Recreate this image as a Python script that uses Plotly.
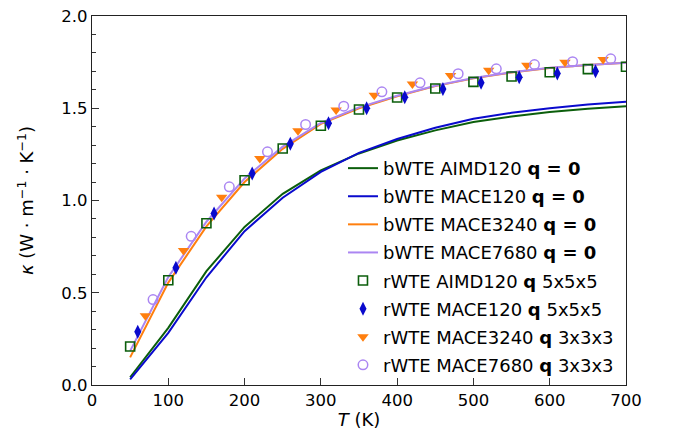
import plotly.graph_objects as go

# bWTE lines (q = 0)
T_line = [50, 100, 150, 200, 250, 300, 350, 400, 450, 500, 550, 600, 650, 700]
k_aimd120 = [0.042, 0.31, 0.617, 0.857, 1.036, 1.163, 1.255, 1.325, 1.38, 1.425, 1.455, 1.48, 1.497, 1.511]
k_mace120 = [0.03, 0.283, 0.584, 0.834, 1.015, 1.155, 1.258, 1.333, 1.394, 1.443, 1.475, 1.50, 1.52, 1.535]
k_mace3240 = [0.15, 0.555, 0.86, 1.10, 1.28, 1.415, 1.50, 1.565, 1.62, 1.662, 1.694, 1.718, 1.734, 1.746]
k_mace7680 = [0.185, 0.585, 0.885, 1.12, 1.292, 1.42, 1.505, 1.568, 1.622, 1.664, 1.695, 1.719, 1.735, 1.747]

# rWTE markers
T_sq = [50, 100, 150, 200, 250, 300, 350, 400, 450, 500, 550, 600, 650, 700]
k_sq = [0.209, 0.568, 0.877, 1.11, 1.282, 1.405, 1.493, 1.558, 1.607, 1.643, 1.672, 1.695, 1.712, 1.725]
T_di = [60, 110, 160, 210, 260, 310, 360, 410, 460, 510, 560, 610, 660]
k_di = [0.288, 0.635, 0.93, 1.146, 1.307, 1.419, 1.50, 1.56, 1.605, 1.638, 1.668, 1.688, 1.70]
T_tr = [70, 120, 170, 220, 270, 320, 370, 420, 470, 520, 570, 620, 670]
k_tr = [0.375, 0.729, 1.018, 1.228, 1.378, 1.49, 1.571, 1.632, 1.677, 1.706, 1.733, 1.75, 1.764]
T_ci = [80, 130, 180, 230, 280, 330, 380, 430, 480, 530, 580, 630, 680]
k_ci = [0.463, 0.806, 1.074, 1.264, 1.412, 1.511, 1.589, 1.638, 1.687, 1.714, 1.737, 1.752, 1.768]

GREEN = "#0b5e0b"
BLUE = "#0a0acd"
ORANGE = "#ff7f0e"
PURPLE = "#ab86f2"
FONT = "DejaVu Sans"

fig = go.Figure()
lines = [
    (k_aimd120, GREEN, "bWTE AIMD120 <b>q = 0</b>"),
    (k_mace120, BLUE, "bWTE MACE120 <b>q = 0</b>"),
    (k_mace3240, ORANGE, "bWTE MACE3240 <b>q = 0</b>"),
    (k_mace7680, PURPLE, "bWTE MACE7680 <b>q = 0</b>"),
]
for i, (k, c, name) in enumerate(lines):
    fig.add_trace(go.Scatter(x=T_line, y=k, mode="lines", name=name,
                             line=dict(color=c, width=2), legendgroup=f"g{i}"))

markers = [
    (T_sq, k_sq, dict(symbol="square-open", size=9, color=GREEN, line=dict(width=1.6, color=GREEN)), "rWTE AIMD120 <b>q</b> 5x5x5"),
    (T_di, k_di, dict(symbol="diamond-tall", size=10, color=BLUE, line=dict(width=0)), "rWTE MACE120 <b>q</b> 5x5x5"),
    (T_tr, k_tr, dict(symbol="triangle-down", size=10, color=ORANGE, line=dict(width=0)), "rWTE MACE3240 <b>q</b> 3x3x3"),
    (T_ci, k_ci, dict(symbol="circle-open", size=9.5, color=PURPLE, line=dict(width=1.5, color=PURPLE)), "rWTE MACE7680 <b>q</b> 3x3x3"),
]
for j, (x, y, m, name) in enumerate(markers):
    fig.add_trace(go.Scatter(x=x, y=y, mode="markers", name=name, marker=m,
                             legendgroup=f"m{j}"))

axis_common = dict(
    showline=True, linecolor="#222222", linewidth=1.3, mirror=True,
    ticks="inside", ticklen=6.5, tickwidth=1.1, tickcolor="#333333",
    showgrid=False, zeroline=False,
    tickfont=dict(family=FONT, size=16.5, color="black"),
)
fig.update_xaxes(range=[0, 700], dtick=100, tick0=0,
                 title=dict(text="<i>T</i> (K)", font=dict(family=FONT, size=18, color="black"), standoff=4),
                 **axis_common)
fig.update_yaxes(range=[0, 2.0], dtick=0.5, tick0=0, tickformat=".1f",
                 minor=dict(dtick=0.1, ticks="inside", ticklen=3.5, tickwidth=1, tickcolor="#333333"),
                 title=dict(text="<i>κ</i> (W · m<sup>−1</sup> · K<sup>−1</sup>)", font=dict(family=FONT, size=18, color="black"), standoff=22),
                 **axis_common)

fig.update_layout(
    width=675, height=440,
    margin=dict(l=92, r=49, t=16, b=55, autoexpand=False),
    plot_bgcolor="white", paper_bgcolor="white",
    font=dict(family=FONT, size=18, color="black"),
    legend=dict(x=0.47, y=0.637, xanchor="left", yanchor="top",
                bgcolor="rgba(255,255,255,0)", borderwidth=0,
                tracegroupgap=1.7, traceorder="grouped",
                font=dict(family=FONT, size=18, color="black")),
)

fig.write_html("out.html")
